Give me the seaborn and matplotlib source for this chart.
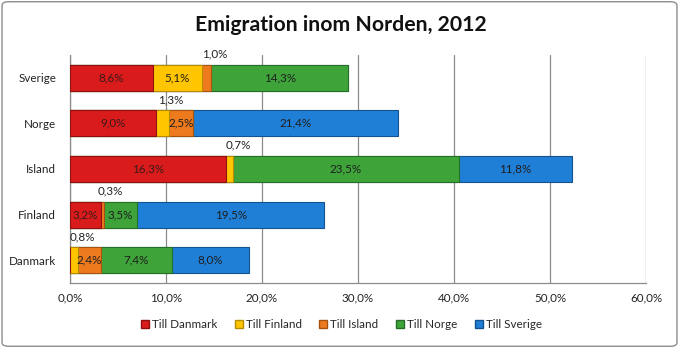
import matplotlib
matplotlib.use("Agg")
import matplotlib.pyplot as plt
import seaborn as sns
import numpy as np
import pandas as pd
from matplotlib.patches import FancyBboxPatch
from matplotlib.lines import Line2D

countries = ["Sverige", "Norge", "Island", "Finland", "Danmark"]
series = ["Till Danmark", "Till Finland", "Till Island", "Till Norge", "Till Sverige"]
till_danmark = [8.6, 9.0, 16.3, 3.2, 0.0]
till_finland = [5.1, 1.3, 0.7, 0.0, 0.8]
till_island = [1.0, 2.5, 0.0, 0.3, 2.4]
till_norge = [14.3, 0.0, 23.5, 3.5, 7.4]
till_sverige = [0.0, 21.4, 11.8, 19.5, 8.0]
xticks = [0, 10, 20, 30, 40, 50, 60]

colors = ["#DA1B1B", "#FFC600", "#EE7A1E", "#3EA43A", "#1F7FD6"]
edges = ["#8E1010", "#B88C00", "#A8520F", "#267026", "#13528E"]

sns.set_theme(style="white")
plt.rcParams["font.family"] = ["Lato", "DejaVu Sans"]

vals = np.array([till_danmark, till_finland, till_island, till_norge, till_sverige])
cum = np.cumsum(vals, axis=0)

fig = plt.figure(figsize=(6.79, 3.48), dpi=100)
ax = fig.add_axes([70 / 679, 1 - 283 / 348, 576 / 679, 228 / 348])

for i in range(len(series) - 1, -1, -1):
    df = pd.DataFrame({"land": countries, "v": cum[i]})
    sns.barplot(data=df, y="land", x="v", order=countries, color=colors[i],
                orient="h", width=0.57, edgecolor=edges[i], linewidth=0.8,
                saturation=1, ax=ax, zorder=3)

def fmt(v):
    return f"{v:.1f}%".replace(".", ",")

for i in range(len(series)):
    for j in range(len(countries)):
        v = vals[i, j]
        if v <= 0:
            continue
        start = cum[i, j] - v
        center = start + v / 2
        if v >= 2:
            ax.text(center, j, fmt(v), ha="center", va="center", fontsize=8.4,
                    color="#3a1a1a" if i == 0 else "#1e1e1e", zorder=5)
        else:
            ax.annotate(fmt(v), xy=(center, j), xytext=(6, 17),
                        textcoords="offset points", ha="center", va="center",
                        fontsize=8.4, color="#222222", zorder=5)

ax.set_xlim(0, 60)
ax.set_xticks(xticks)
ax.set_xticklabels([f"{t:.1f}%".replace(".", ",") for t in xticks], fontsize=8.4, color="#222222")
ax.tick_params(axis="y", labelsize=8.4, labelcolor="#222222", pad=10, length=0)
ax.tick_params(axis="x", pad=7, length=0)
ax.set_xlabel("")
ax.set_ylabel("")
ax.grid(axis="x", color="#8c8c8c", linewidth=0.9, zorder=0)
ax.set_axisbelow(True)
for s in ["top", "right"]:
    ax.spines[s].set_visible(False)
for s in ["left", "bottom"]:
    ax.spines[s].set_color("#8c8c8c")
    ax.spines[s].set_linewidth(0.9)

fig.text(341 / 679, 1 - 25 / 348, "Emigration inom Norden, 2012", ha="center",
         va="center", fontsize=15.3, fontweight="bold", color="#111111")

handles = [Line2D([0], [0], marker="s", linestyle="none", markersize=6,
                  markerfacecolor=colors[i], markeredgecolor=edges[i]) for i in range(5)]
fig.legend(handles, series, loc="center", bbox_to_anchor=(341 / 679, 1 - 325 / 348),
           ncol=5, frameon=False, fontsize=8.4, handletextpad=0.2, columnspacing=1.45,
           handlelength=0.8)

border = FancyBboxPatch((0.003, 0.005), 0.994, 0.99, boxstyle="round,pad=0,rounding_size=0.01",
                        transform=fig.transFigure, facecolor="none", edgecolor="#8c8c8c",
                        linewidth=1.0)
fig.patches.append(border)

fig.savefig("out.png", dpi=100)
